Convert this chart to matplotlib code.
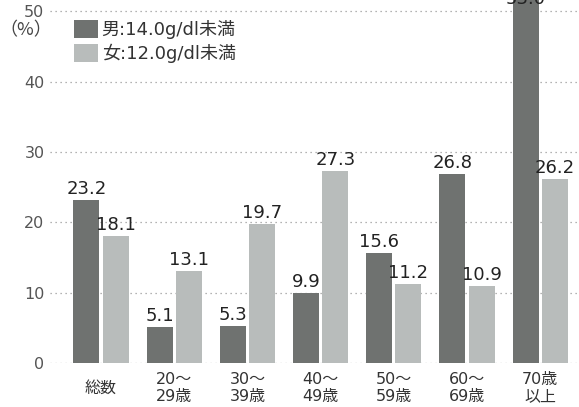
import numpy as np
import matplotlib.pyplot as plt

plt.rcParams['font.family'] = ['DejaVu Sans', 'Noto Sans CJK JP']

categories = ["総数", "20～\n29歳", "30～\n39歳", "40～\n49歳", "50～\n59歳", "60～\n69歳", "70歳\n以上"]
male = [23.2, 5.1, 5.3, 9.9, 15.6, 26.8, 53.0]
female = [18.1, 13.1, 19.7, 27.3, 11.2, 10.9, 26.2]
male_label = "男:14.0g/dl未満"
female_label = "女:12.0g/dl未満"

male_color = "#6f7270"
female_color = "#b8bcbb"

W, H = 579, 407
fig = plt.figure(figsize=(W / 100, H / 100), dpi=100)
ax = fig.add_axes([50 / W, (H - 363) / H, 529 / W, 363 / H])

x = np.arange(len(categories))
w = 0.355
b1 = ax.bar(x - 0.2, male, width=w, color=male_color, label=male_label, zorder=2)
b2 = ax.bar(x + 0.2, female, width=w, color=female_color, label=female_label, zorder=2)

ax.set_ylim(0, 51.6)
ax.set_xlim(-0.697, 6.53)

# value labels (the 53.0 label sits at the top edge, partly cut like the original)
for xs, vals in ((x - 0.2, male), (x + 0.2, female)):
    for xi, v in zip(xs, vals):
        ax.text(xi, min(v, 50.2) + 0.3, f"{v:.1f}", ha="center", va="bottom",
                fontsize=13, color="#222222", zorder=3, clip_on=False)

# dotted grid
for t in range(0, 51, 10):
    ax.axhline(t, color="#9a9a9a", lw=0.9, ls=(0, (1, 3)), zorder=1)

ax.set_yticks(range(0, 51, 10))
ax.set_xticks(x)
ax.set_xticklabels(categories, linespacing=1.2, va="center")
ax.tick_params(axis="y", length=0, pad=4, labelsize=11.5, labelcolor="#555555")
ax.tick_params(axis="x", length=0, pad=18, labelsize=11.5, labelcolor="#333333")
for s in ax.spines.values():
    s.set_visible(False)

fig.text(26 / W, 1 - 30 / H, "（%）", fontsize=13, color="#444444", va="center", ha="center",
         family=["Noto Sans CJK JP"])

fig.legend(handles=[b1, b2], loc="upper left", bbox_to_anchor=(74 / W, 1 - 20 / H),
           frameon=False, fontsize=13, handlelength=1.33, handleheight=1.15,
           handletextpad=0.2, labelspacing=0.28, borderpad=0, borderaxespad=0,
           labelcolor="#333333")

fig.savefig("out.png", dpi=100)
